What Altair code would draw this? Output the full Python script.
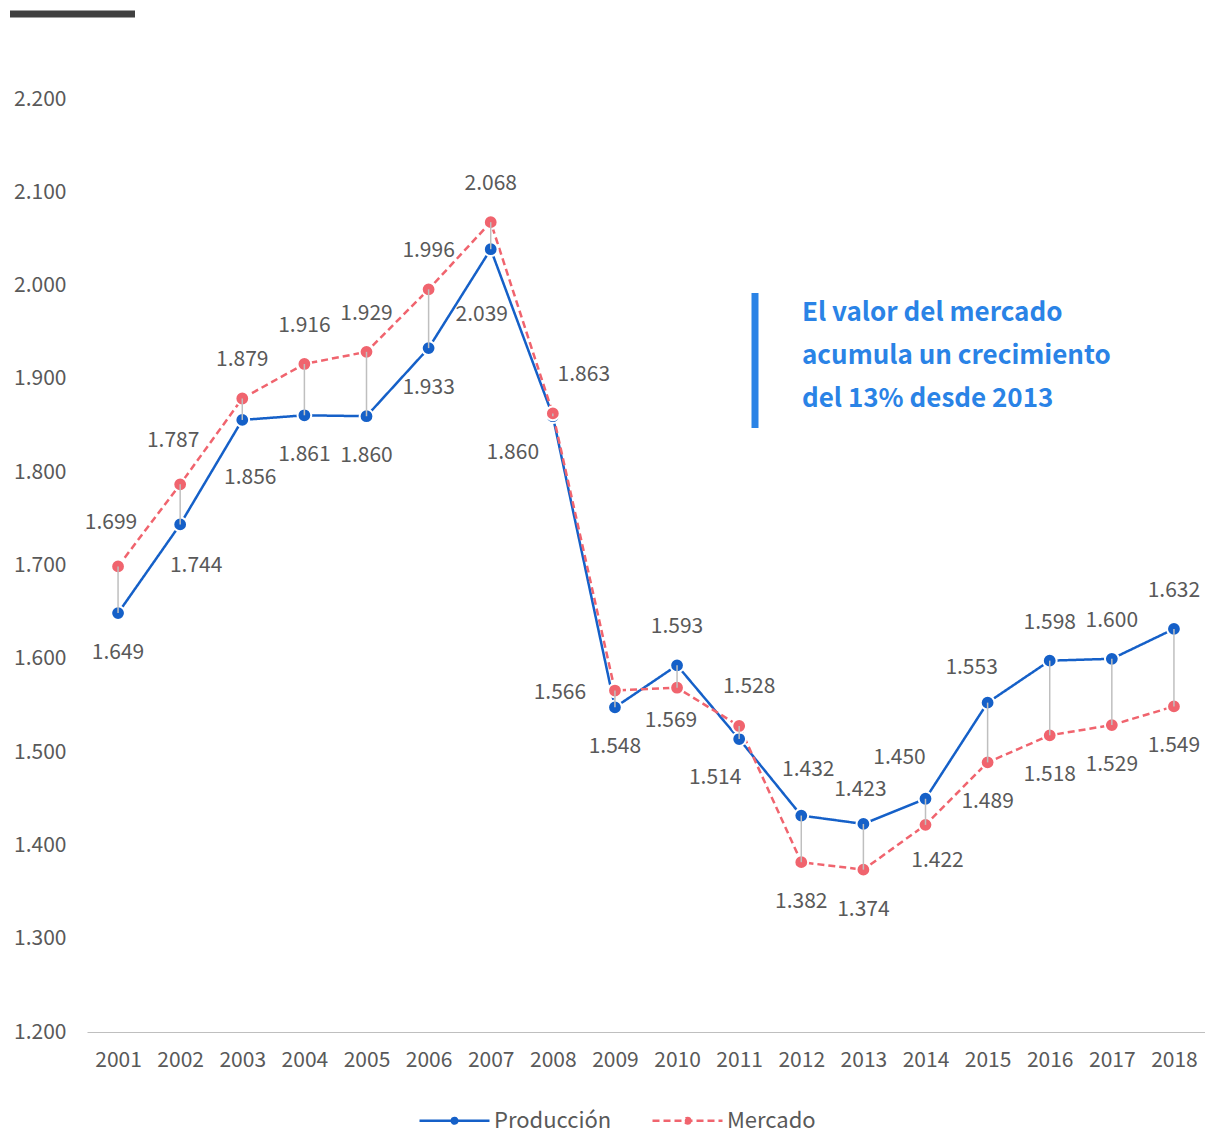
import altair as alt
import pandas as pd

years = [str(y) for y in range(2001, 2019)]
produccion = [1649, 1744, 1856, 1861, 1860, 1933, 2039, 1860, 1548, 1593, 1514, 1432, 1423, 1450, 1553, 1598, 1600, 1632]
mercado = [1699, 1787, 1879, 1916, 1929, 1996, 2068, 1863, 1566, 1569, 1528, 1382, 1374, 1422, 1489, 1518, 1529, 1549]
# label placement codes for each point
prod_place = ["below", "below_r", "below_rr", "below", "below", "below", "low", "below_left", "below",
              "above", "below_left_s", "above_r", "above_low", "above_left", "above_left_s", "above", "above", "above"]
merc_place = ["above_l", "above_l", "above", "above", "above", "above", "above", "above_right", "left",
              "below_high", "above_right_s", "below", "below", "below_right", "below", "below", "below", "below"]
series_names = ["Producción", "Mercado"]
y_ticks = [1200, 1300, 1400, 1500, 1600, 1700, 1800, 1900, 2000, 2100, 2200]
note = ["El valor del mercado", "acumula un crecimiento", "del 13% desde 2013"]

offsets = {
    "above": (0, -38), "above_r": (7, -46), "above_low": (-3, -34), "above_left": (-26, -41),
    "above_left_s": (-16, -35), "above_l": (-7, -43), "above_right": (31, -38), "above_right_s": (10, -39),
    "below": (0, 40), "below_r": (16, 42), "below_rr": (8, 58), "below_left": (-40, 37),
    "below_left_s": (-24, 39), "below_right": (12, 36), "below_high": (-6, 33), "low": (-9, 66),
    "left": (-55, 2),
}

BLUE = "#1560C8"
RED = "#F0646E"
GRAY_TXT = "#595959"
FONT = "Noto Sans CJK JP"
LEGEND_PATH = ("M-1,0H1"
               "M0.08,0A0.08,0.08,0,1,1,-0.08,0A0.08,0.08,0,1,1,0.08,0Z"
               "M0.035,0A0.035,0.035,0,1,1,-0.035,0A0.035,0.035,0,1,1,0.035,0Z")

rows = []
for i, y in enumerate(years):
    rows.append({"year": y, "series": "Producción", "value": produccion[i], "place": prod_place[i]})
    rows.append({"year": y, "series": "Mercado", "value": mercado[i], "place": merc_place[i]})
df = pd.DataFrame(rows)
df["label"] = df["value"].map(lambda v: f"{v:,}".replace(",", "."))
wide = pd.DataFrame({"year": years, "prod": produccion, "merc": mercado})

xscale = alt.Scale(type="point", padding=0.5)
xenc = alt.X("year:O", scale=xscale,
             axis=alt.Axis(title=None, labelAngle=0, ticks=False, domainColor="#BFBFBF",
                           labelPadding=17, labelFontSize=21, labelColor=GRAY_TXT, labelFont=FONT))
yscale = alt.Scale(domain=[1200, 2200], nice=False, zero=False)
yenc = alt.Y("value:Q", scale=yscale,
             axis=alt.Axis(title=None, values=y_ticks, grid=False, domain=False, ticks=False,
                           labelPadding=21, labelFontSize=21, labelColor=GRAY_TXT, labelFont=FONT,
                           labelExpr="replace(format(datum.value, ','), ',', '.')"))

cscale = alt.Scale(domain=series_names, range=[BLUE, RED])
dscale = alt.Scale(domain=series_names, range=[[1, 0], [7, 4]])


def make_legend():
    return alt.Legend(
        title=None, orient="none", legendX=331, legendY=985, direction="horizontal",
        symbolType=LEGEND_PATH, symbolSize=4900, symbolStrokeWidth=2.5, labelFontSize=22,
        labelColor=GRAY_TXT, labelFont=FONT, labelOffset=3, columnPadding=35)


base = alt.Chart(df)
lines = base.mark_line(strokeWidth=2.5).encode(
    x=xenc, y=yenc,
    color=alt.Color("series:N", scale=cscale, legend=make_legend()),
    strokeDash=alt.StrokeDash("series:N", scale=dscale, legend=make_legend()),
    order=alt.Order("year:O"),
)
points = base.mark_circle(size=190, opacity=1, stroke="white", strokeWidth=2).encode(
    x=xenc, y=yenc, color=alt.Color("series:N", scale=cscale, legend=None)
)
rules = alt.Chart(wide).mark_rule(color="#BFBFBF", strokeWidth=1.5).encode(
    x=alt.X("year:O", scale=xscale),
    y=alt.Y("prod:Q", scale=yscale), y2="merc:Q",
)

label_layers = []
for code, (dx, dy) in offsets.items():
    label_layers.append(
        base.transform_filter(alt.datum.place == code).mark_text(
            dx=dx, dy=dy, fontSize=21, color=GRAY_TXT, font=FONT
        ).encode(x=alt.X("year:O", scale=xscale),
                 y=alt.Y("value:Q", scale=yscale), text="label:N")
    )

note_df = pd.DataFrame({"text": [note]})
note_bar = alt.Chart(note_df).mark_rule(color="#2A83E6", strokeWidth=7).encode(
    x=alt.value(668), y=alt.value(194), y2=alt.value(329))
note_text = alt.Chart(note_df).mark_text(
    align="left", baseline="middle", fontSize=26, fontWeight="bold", color="#2A83E6",
    font=FONT, lineHeight=43).encode(x=alt.value(715), y=alt.value(214), text="text")
top_bar = alt.Chart(note_df).mark_rule(color="#404040", strokeWidth=7).encode(
    x=alt.value(-77), x2=alt.value(48), y=alt.value(-85))

chart = alt.layer(lines, points, rules, *label_layers, note_bar, note_text, top_bar).properties(
    width=1118, height=933,
    autosize=alt.AutoSizeParams(type="none"),
    padding={"left": 79, "top": 91, "right": 0, "bottom": 100},
).configure_view(stroke=None).configure_text(font=FONT)

chart.save("out.html", embed_options={"renderer": "svg", "actions": False})
